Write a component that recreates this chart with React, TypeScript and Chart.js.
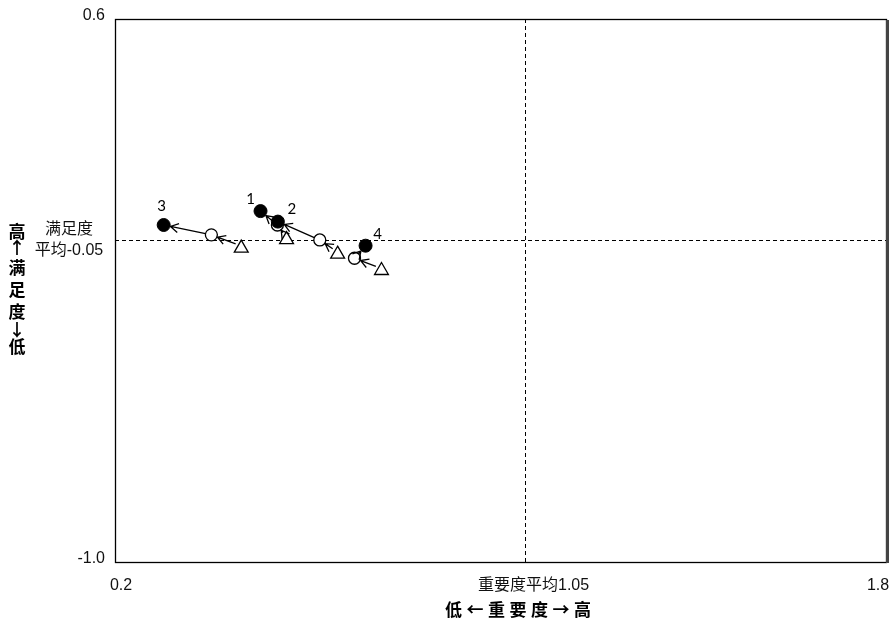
import React, { useEffect, useRef } from 'react';
import { Chart, registerables } from 'chart.js';

Chart.register(...registerables);

// ---- data ----
const itemLabels = ['1', '2', '3', '4'];
// current survey (filled circles)
const importanceCurrent = [0.502, 0.538, 0.301, 0.72];
const satisfactionCurrent = [0.034, 0.003, -0.007, -0.068];
// previous survey (open circles)
const importancePrevious = [0.537, 0.625, 0.4, 0.697];
const satisfactionPrevious = [-0.007, -0.051, -0.036, -0.105];
// older survey (open triangles)
const importanceOlder = [0.556, 0.662, 0.462, 0.753];
const satisfactionOlder = [-0.05, -0.093, -0.075, -0.141];

const importanceAverage = 1.05;
const satisfactionAverage = -0.05;

const xTickValues = [0.2, 1.05, 1.8];
const xTickLabels = ['0.2', '重要度平均1.05', '1.8'];
const yTickValues = [0.6, -0.05, -1.0];
const yTickLabels = [['0.6'], ['满足度', '平均-0.05'], ['-1.0']];

const xTitle = '低←重要度→高';
const yTitle = '高↑满足度↓低';

// ---- styles ----
const FONT = '"Liberation Sans", "Noto Sans CJK SC", sans-serif';
const CJK_BOLD = '"Noto Sans CJK SC", sans-serif';
const labelOffsets = [
  [-10, -12],
  [14, -12],
  [-2, -19],
  [12, -12],
];
const xTickOffsets = [6, 9, -8];

function pts(xs: number[], ys: number[]) {
  return xs.map((x, i) => ({ x, y: ys[i] }));
}

function drawArrow(
  ctx: CanvasRenderingContext2D,
  x1: number,
  y1: number,
  x2: number,
  y2: number,
  r1: number,
  r2: number
) {
  const dx = x2 - x1;
  const dy = y2 - y1;
  const len = Math.hypot(dx, dy);
  if (len < 1) return;
  const ux = dx / len;
  const uy = dy / len;
  const sx = x1 + ux * r1;
  const sy = y1 + uy * r1;
  const ex = x2 - ux * r2;
  const ey = y2 - uy * r2;
  ctx.beginPath();
  ctx.moveTo(sx, sy);
  ctx.lineTo(ex, ey);
  const head = 9;
  const ang = Math.atan2(uy, ux);
  const a = (30 * Math.PI) / 180;
  ctx.moveTo(ex - head * Math.cos(ang - a), ey - head * Math.sin(ang - a));
  ctx.lineTo(ex, ey);
  ctx.lineTo(ex - head * Math.cos(ang + a), ey - head * Math.sin(ang + a));
  ctx.stroke();
}

const overlay = {
  id: 'overlay',
  beforeDatasetsDraw(chart: any) {
    const { ctx, chartArea, scales } = chart;
    const { left, right, top, bottom } = chartArea;
    ctx.save();
    // average lines
    ctx.strokeStyle = '#000';
    ctx.lineWidth = 1;
    ctx.setLineDash([4, 3]);
    const ax = Math.round(scales.x.getPixelForValue(importanceAverage)) + 0.5;
    const ay = Math.round(scales.y.getPixelForValue(satisfactionAverage)) + 0.5;
    ctx.beginPath();
    ctx.moveTo(ax, top);
    ctx.lineTo(ax, bottom);
    ctx.moveTo(left, ay);
    ctx.lineTo(right, ay);
    ctx.stroke();
    ctx.setLineDash([]);
    // frame
    ctx.lineWidth = 1.3;
    ctx.strokeStyle = '#000';
    ctx.strokeRect(left + 0.5, top + 0.5, right - left, bottom - top);
    ctx.fillStyle = '#444';
    ctx.fillRect(right, top + 1, 3, bottom - top);
    ctx.restore();
  },
  afterDatasetsDraw(chart: any) {
    const { ctx, scales } = chart;
    const xs = scales.x;
    const ys = scales.y;
    ctx.save();
    ctx.strokeStyle = '#000';
    ctx.lineWidth = 1.3;
    // arrows: older -> previous -> current
    for (let i = 0; i < itemLabels.length; i++) {
      const tx = xs.getPixelForValue(importanceOlder[i]);
      const ty = ys.getPixelForValue(satisfactionOlder[i]) - 2;
      const ox = xs.getPixelForValue(importancePrevious[i]);
      const oy = ys.getPixelForValue(satisfactionPrevious[i]);
      const fx = xs.getPixelForValue(importanceCurrent[i]);
      const fy = ys.getPixelForValue(satisfactionCurrent[i]);
      drawArrow(ctx, tx, ty, ox, oy, 6, 6.5);
      drawArrow(ctx, ox, oy, fx, fy, 6, 7);
    }
    // point labels
    ctx.fillStyle = '#000';
    ctx.font = '15px Lato, "Open Sans", sans-serif';
    ctx.textAlign = 'center';
    ctx.textBaseline = 'middle';
    for (let i = 0; i < itemLabels.length; i++) {
      const fx = xs.getPixelForValue(importanceCurrent[i]);
      const fy = ys.getPixelForValue(satisfactionCurrent[i]);
      ctx.fillText(itemLabels[i], fx + labelOffsets[i][0], fy + labelOffsets[i][1]);
    }
    // x tick labels
    ctx.font = '16px ' + FONT;
    ctx.fillStyle = '#111';
    ctx.textAlign = 'center';
    const xTickY = chart.chartArea.bottom + 24;
    xTickValues.forEach((v, i) => {
      ctx.fillText(xTickLabels[i], xs.getPixelForValue(v) + xTickOffsets[i], xTickY);
    });
    // y tick labels
    yTickValues.forEach((v, i) => {
      const py = ys.getPixelForValue(v);
      const lines = yTickLabels[i];
      if (lines.length === 1) {
        ctx.textAlign = 'right';
        ctx.fillText(lines[0], chart.chartArea.left - 10, py - 3);
      } else {
        ctx.textAlign = 'center';
        ctx.fillText(lines[0], 69, py - 10);
        ctx.fillText(lines[1], 69, py + 11);
      }
    });
    // x title (bold, spaced)
    ctx.fillStyle = '#000';
    ctx.font = 'bold 17px ' + CJK_BOLD;
    ctx.textAlign = 'center';
    const xChars = Array.from(xTitle);
    const pitch = 21.5;
    const cx = 518;
    xChars.forEach((c, i) => {
      ctx.fillText(c, cx + (i - (xChars.length - 1) / 2) * pitch, 610);
    });
    // y title (stacked vertically)
    const yChars = Array.from(yTitle);
    const yPos = [232, 248, 268, 290, 312, 330, 347];
    yChars.forEach((c, i) => {
      ctx.fillText(c, 17, yPos[i]);
    });
    ctx.restore();
  },
};

export default function App() {
  const canvasRef = useRef<HTMLCanvasElement>(null);

  useEffect(() => {
    const canvas = canvasRef.current;
    if (!canvas) return;
    const chart = new Chart(canvas, {
      type: 'scatter',
      data: {
        datasets: [
          {
            label: '本次',
            data: pts(importanceCurrent, satisfactionCurrent),
            pointStyle: 'circle',
            pointRadius: 6.5,
            backgroundColor: '#000',
            borderColor: '#000',
            borderWidth: 1,
          },
          {
            label: '上次',
            data: pts(importancePrevious, satisfactionPrevious),
            pointStyle: 'circle',
            pointRadius: 6,
            backgroundColor: '#fff',
            borderColor: '#000',
            borderWidth: 1.3,
          },
          {
            label: '前次',
            data: pts(importanceOlder, satisfactionOlder),
            pointStyle: 'triangle',
            pointRadius: 8,
            backgroundColor: '#fff',
            borderColor: '#000',
            borderWidth: 1.3,
          },
        ],
      },
      options: {
        animation: false,
        responsive: true,
        maintainAspectRatio: false,
        events: [],
        layout: { padding: { left: 115, right: 10, top: 19, bottom: 61 } },
        plugins: {
          legend: { display: false },
          tooltip: { enabled: false },
          title: { display: false },
        },
        scales: {
          x: { type: 'linear', min: 0.2, max: 1.8, display: false },
          y: { type: 'linear', min: -1.0, max: 0.6, display: false },
        },
      },
      plugins: [overlay],
    });
    return () => chart.destroy();
  }, []);

  return (
    <div
      style={{
        position: 'absolute',
        left: 0,
        top: 0,
        width: 896,
        height: 623,
        background: '#fff',
      }}
    >
      <canvas ref={canvasRef} />
    </div>
  );
}
